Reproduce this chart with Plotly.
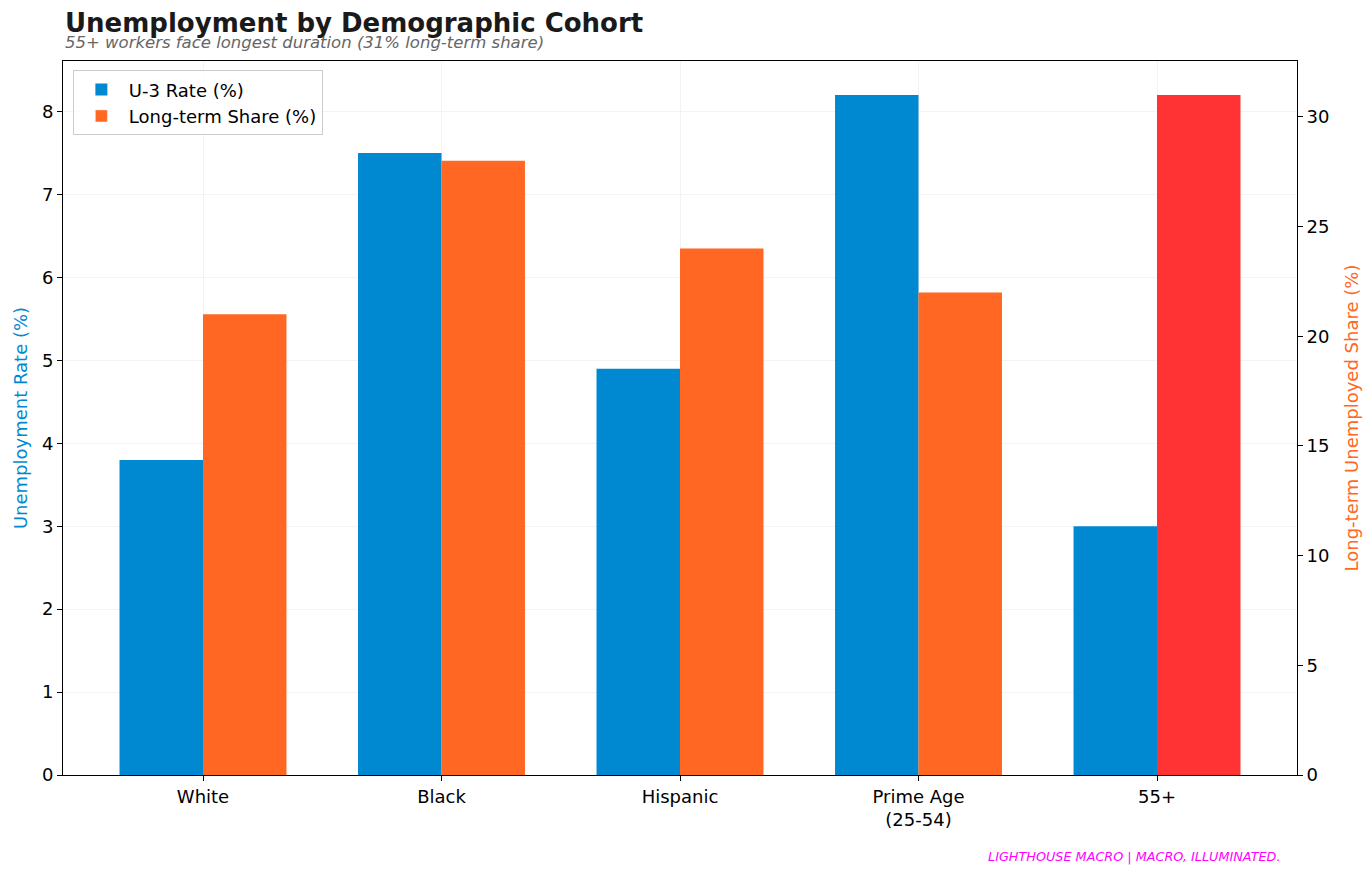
import plotly.graph_objects as go

categories = ["White", "Black", "Hispanic", "Prime Age<br>(25-54)", "55+"]
u3_rate = [3.8, 7.5, 4.9, 8.2, 3.0]
long_term_share = [21, 28, 24, 22, 31]

BLUE = "#0089D1"
ORANGE = "#FF6723"
RED = "#FF3333"
W = 0.35

xs = list(range(len(categories)))
lt_colors = [RED if v == max(long_term_share) else ORANGE for v in long_term_share]

# page has ~8px body margin; compensate so plot area sits at x 63-1297, y 61-775
PAGE_OFF = 8
FIG_W, FIG_H = 1372 - 2 * PAGE_OFF, 896 - 2 * PAGE_OFF
L, R, T, B = 63 - PAGE_OFF, 75 - PAGE_OFF, 61 - PAGE_OFF, 121 - PAGE_OFF
PH = 714

fig = go.Figure()
fig.add_trace(go.Bar(
    x=[x - W / 2 for x in xs], y=u3_rate, width=W, name="U-3 Rate (%)",
    marker=dict(color=BLUE, line=dict(width=0)), yaxis="y",
))
fig.add_trace(go.Bar(
    x=[x + W / 2 for x in xs], y=long_term_share, width=W, name="Long-term Share (%)",
    marker=dict(color=lt_colors, line=dict(width=0)), yaxis="y2", showlegend=False,
))
fig.add_trace(go.Bar(x=[None], y=[None], name="Long-term Share (%)",
                     marker=dict(color=ORANGE), yaxis="y2"))

fig.update_layout(
    width=FIG_W, height=FIG_H,
    margin=dict(l=L, r=R, t=T, b=B, autoexpand=False),
    paper_bgcolor="white", plot_bgcolor="white",
    font=dict(family="DejaVu Sans", size=18, color="black"),
    barmode="overlay",
    showlegend=True,
    legend=dict(x=0.008, y=0.987, xanchor="left", yanchor="top",
                bgcolor="rgba(255,255,255,0.8)", bordercolor="#cccccc", borderwidth=1,
                font=dict(size=18), tracegroupgap=0, itemwidth=45),
    xaxis=dict(
        range=[-0.587, len(categories) - 1 + 0.587],
        tickmode="array", tickvals=xs, ticktext=categories,
        showline=True, linecolor="black", linewidth=1, mirror=True,
        ticks="outside", ticklen=5, tickcolor="black",
        showgrid=True, gridcolor="#f3f3f3", gridwidth=1, zeroline=False,
        automargin=False,
    ),
    yaxis=dict(
        range=[0, max(u3_rate) * 1.05], dtick=1,
        title=dict(text="Unemployment Rate (%)", font=dict(color=BLUE, size=18), standoff=9),
        showline=True, linecolor="black", linewidth=1,
        ticks="outside", ticklen=5, tickcolor="black",
        showgrid=True, gridcolor="#f3f3f3", gridwidth=1, zeroline=False,
        automargin=False,
    ),
    yaxis2=dict(
        range=[0, max(long_term_share) * 1.05], dtick=5,
        overlaying="y", side="right",
        title=dict(text="Long-term Unemployed Share (%)", font=dict(color=ORANGE, size=18), standoff=16),
        showline=True, linecolor="black", linewidth=1,
        ticks="outside", ticklen=5, tickcolor="black",
        showgrid=False, zeroline=False,
        automargin=False,
    ),
)

fig.add_annotation(text="<b>Unemployment by Demographic Cohort</b>",
                   xref="paper", yref="paper", x=0, y=1.0 + 38 / PH, xanchor="left", yanchor="middle",
                   showarrow=False, font=dict(size=26, color="#1a1a1a"))
fig.add_annotation(text="<i>55+ workers face longest duration (31% long-term share)</i>",
                   xref="paper", yref="paper", x=0, y=1.0 + 19 / PH, xanchor="left", yanchor="middle",
                   showarrow=False, font=dict(size=16.5, color="#666666"))
fig.add_annotation(text="<i>LIGHTHOUSE MACRO | MACRO, ILLUMINATED.</i>",
                   xref="paper", yref="paper", x=(1283 - 63) / 1234, y=-(857 - 775) / PH,
                   xanchor="right", yanchor="middle",
                   showarrow=False, font=dict(size=12.8, color="#FF00FF"))

fig.write_html("out.html")
